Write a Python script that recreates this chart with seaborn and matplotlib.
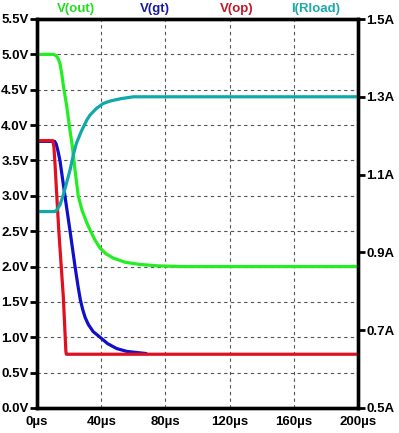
import matplotlib
matplotlib.use("Agg")
import matplotlib.pyplot as plt
import seaborn as sns
import pandas as pd

# ---- data (time in µs) ----
t_out = [0, 10.2, 12, 13.2, 14.3, 15.4, 16.4, 18.5, 20.1, 22, 23.5, 25.7, 28, 31, 33, 36, 39.3, 43, 47.5, 55, 64, 75, 90, 200]
v_out = [5.0, 5.0, 4.98, 4.94, 4.87, 4.73, 4.56, 4.27, 4.0, 3.7, 3.4, 3.0, 2.8, 2.62, 2.52, 2.38, 2.26, 2.18, 2.12, 2.06, 2.03, 2.01, 2.0, 2.0]

t_gt = [0, 11, 12, 13, 14.3, 17.4, 20.6, 23.7, 25.5, 27, 28.5, 30, 32, 35, 39.3, 44, 49.7, 56, 64, 68]
v_gt = [3.77, 3.77, 3.73, 3.64, 3.5, 3.0, 2.5, 2.0, 1.73, 1.53, 1.39, 1.28, 1.18, 1.08, 1.0, 0.91, 0.84, 0.8, 0.78, 0.77]

t_op = [0, 9.8, 10.5, 11.2, 12.3, 13.6, 16.4, 18, 18.3, 200]
v_op = [3.78, 3.78, 3.7, 3.46, 3.01, 2.5, 1.57, 0.8, 0.76, 0.76]

t_ld = [0, 11.2, 12.5, 14.3, 16.4, 18.5, 20.6, 22.6, 24.5, 27.8, 31, 33, 37, 41.3, 45.5, 52, 60, 200]
i_ld = [1.005, 1.005, 1.01, 1.022, 1.048, 1.08, 1.112, 1.15, 1.18, 1.213, 1.24, 1.253, 1.27, 1.283, 1.289, 1.295, 1.3, 1.3]

x_ticks = [0, 40, 80, 120, 160, 200]
x_labels = ["0µs", "40µs", "80µs", "120µs", "160µs", "200µs"]
v_ticks = [0.0, 0.5, 1.0, 1.5, 2.0, 2.5, 3.0, 3.5, 4.0, 4.5, 5.0, 5.5]
v_labels = ["0.0V", "0.5V", "1.0V", "1.5V", "2.0V", "2.5V", "3.0V", "3.5V", "4.0V", "4.5V", "5.0V", "5.5V"]
i_ticks = [0.5, 0.7, 0.9, 1.1, 1.3, 1.5]
i_labels = ["0.5A", "0.7A", "0.9A", "1.1A", "1.3A", "1.5A"]

names = ["V(out)", "V(gt)", "V(op)", "I(Rload)"]
line_colors = ["#22ee22", "#1010cc", "#e01020", "#10a8a8"]
text_colors = ["#22dd22", "#1a1aa0", "#c01828", "#20a8a8"]

sns.set_theme(style="white")
plt.rcParams["font.family"] = ["Liberation Sans", "DejaVu Sans"]
plt.rcParams["font.weight"] = "bold"

fig = plt.figure(figsize=(3.99, 4.33), dpi=100)
ax = fig.add_axes([37/399, 25/433, 321/399, 389/433])
ax.set_facecolor("white")
ax2 = ax.twinx()

df_out = pd.DataFrame({"t": t_out, "v": v_out})
df_gt = pd.DataFrame({"t": t_gt, "v": v_gt})
df_op = pd.DataFrame({"t": t_op, "v": v_op})
df_ld = pd.DataFrame({"t": t_ld, "i": i_ld})

lw = 2.3
kw = dict(lw=lw, solid_joinstyle="round", solid_capstyle="round")
sns.lineplot(data=df_out, x="t", y="v", ax=ax, color=line_colors[0], zorder=3, **kw)
sns.lineplot(data=df_gt, x="t", y="v", ax=ax, color=line_colors[1], zorder=4, **kw)
sns.lineplot(data=df_op, x="t", y="v", ax=ax, color=line_colors[2], zorder=5, **kw)
sns.lineplot(data=df_ld, x="t", y="i", ax=ax2, color=line_colors[3], **kw)

ax.set_xlim(0, 200)
ax.set_ylim(0, 5.5)
ax2.set_ylim(0.5, 1.5)
ax.set_xticks(x_ticks)
ax.set_xticklabels(x_labels)
ax.set_yticks(v_ticks)
ax.set_yticklabels(v_labels)
ax2.set_yticks(i_ticks)
ax2.set_yticklabels(i_labels)
ax.set_xlabel("")
ax.set_ylabel("")
ax2.set_ylabel("")

for a in (ax, ax2):
    a.tick_params(axis="both", direction="out", length=5, width=2, color="black",
                  labelsize=9.5, labelcolor="black", pad=1)
    for s in a.spines.values():
        s.set_color("black")
        s.set_linewidth(2.4)
for lab in ax.get_xticklabels() + ax.get_yticklabels() + ax2.get_yticklabels():
    lab.set_fontweight("bold")

ax.grid(True, color="#555555", linestyle=(0, (3, 3)), linewidth=0.8)
ax2.grid(False)
ax2.patch.set_visible(False)
ax.set_zorder(1)
ax2.set_zorder(2)

xs = [76, 155, 237, 316]
for name, c, x in zip(names, text_colors, xs):
    fig.text(x/399, 1 - 9/433, name, color=c, ha="center", va="center",
             fontsize=9.5, fontweight="bold")

fig.savefig("out.png", dpi=100, facecolor="white")
